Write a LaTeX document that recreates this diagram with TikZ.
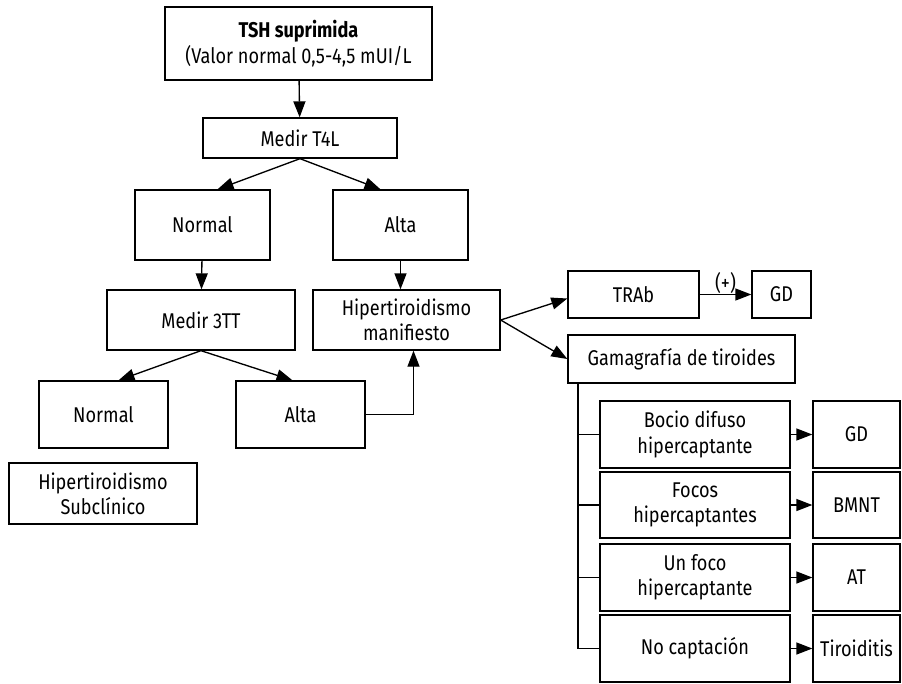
\documentclass[tikz,border=0pt]{standalone}
\usepackage{fontspec}
\setmainfont{Fira Sans}[FakeStretch=0.85]
\usepackage{tikz}
\usetikzlibrary{arrows.meta,calc,positioning}
\tikzset{
  box/.style={draw,line width=1pt,align=center,inner sep=2pt,font=\fontsize{16}{19}\selectfont},
  link/.style={line width=1pt,-{Triangle[length=12pt,width=9pt]}},
  bare/.style={line width=1pt}
}

\begin{document}
\begin{tikzpicture}[x=0.75pt,y=-0.75pt]
\useasboundingbox (0,0) rectangle (902,683);
% main column
\node[box,minimum width=200.25pt,minimum height=54.75pt] (tsh) at (298.5,43.5) {\textbf{TSH suprimida}\\(Valor normal 0,5-4,5 mUI/L};
\node[box,minimum width=145.5pt,minimum height=30pt] (t4l) at (300,138) {Medir T4L};
\node[box,minimum width=101.25pt,minimum height=52.5pt] (normA) at (202.5,225) {Normal};
\node[box,minimum width=101.25pt,minimum height=52.5pt] (altaA) at (400.5,225) {Alta};
\node[box,minimum width=141pt,minimum height=45pt] (t3) at (201,320) {Medir 3TT};
\node[box,minimum width=140.25pt,minimum height=45pt] (manif) at (406.5,320) {Hipertiroidismo\\manifiesto};
\node[box,minimum width=96.75pt,minimum height=50.25pt] (normB) at (103.5,414.5) {Normal};
\node[box,minimum width=96.75pt,minimum height=50.25pt] (altaB) at (300.5,414.5) {Alta};
\node[box,minimum width=141pt,minimum height=45.75pt] (subcl) at (103,493.5) {Hipertiroidismo\\Subclínico};
% right branch
\node[box,minimum width=98.25pt,minimum height=35.25pt] (trab) at (633.5,294.5) {TRAb};
\node[box,minimum width=44.25pt,minimum height=35.25pt] (gdA) at (781.5,294.5) {GD};
\node[box,minimum width=170.25pt,minimum height=36pt] (gama) at (681.5,359) {Gamagrafía de tiroides};
\node[box,minimum width=142.5pt,minimum height=50.25pt] (bocio) at (695,434.5) {Bocio difuso\\hipercaptante};
\node[box,minimum width=142.5pt,minimum height=49.5pt] (focos) at (695,505) {Focos\\hipercaptantes};
\node[box,minimum width=142.5pt,minimum height=50.25pt] (unfoco) at (695,577.5) {Un foco\\hipercaptante};
\node[box,minimum width=142.5pt,minimum height=50.25pt] (nocap) at (695,648.5) {No captación};
\node[box,minimum width=65.25pt,minimum height=50.25pt] (gdB) at (856.5,434.5) {GD};
\node[box,minimum width=65.25pt,minimum height=49.5pt] (bmnt) at (856.5,505) {BMNT};
\node[box,minimum width=65.25pt,minimum height=50.25pt] (at) at (856.5,577.5) {AT};
\node[box,minimum width=65.25pt,minimum height=50.25pt] (tiro) at (856.5,648.5) {Tiroiditis};
% arrows
\draw[link] (tsh) -- (t4l);
\draw[link] (t4l.south) -- ($(normA.north)+(15,0)$);
\draw[link] (t4l.south) -- ($(altaA.north)+(-20,0)$);
\draw[link] (normA) -- (t3);
\draw[link] (altaA.south) -- (altaA.south |- manif.north);
\draw[link] (t3.south) -- ($(normB.north)+(15,0)$);
\draw[link] (t3.south) -- ($(altaB.north)+(-8,0)$);
\draw[link] (altaB.east) -| ($(manif.south)+(7,0)$);
\draw[link] (manif.east) -- ($(trab.west)+(0,4)$);
\draw[link] (manif.east) -- (gama.west);
\draw[link] (trab) -- node[above,font=\fontsize{16}{18}\selectfont,yshift=-3pt]{(+)} (gdA);
% spine under the scan
\coordinate (spine) at (578,383);
\draw[bare] (spine) |- (nocap.west);
\foreach \n in {bocio,focos,unfoco} \draw[bare] (spine |- \n.west) -- (\n.west);
\foreach \a/\b in {bocio/gdB,focos/bmnt,unfoco/at,nocap/tiro} \draw[link] (\a) -- (\b);
\end{tikzpicture}
\end{document}
